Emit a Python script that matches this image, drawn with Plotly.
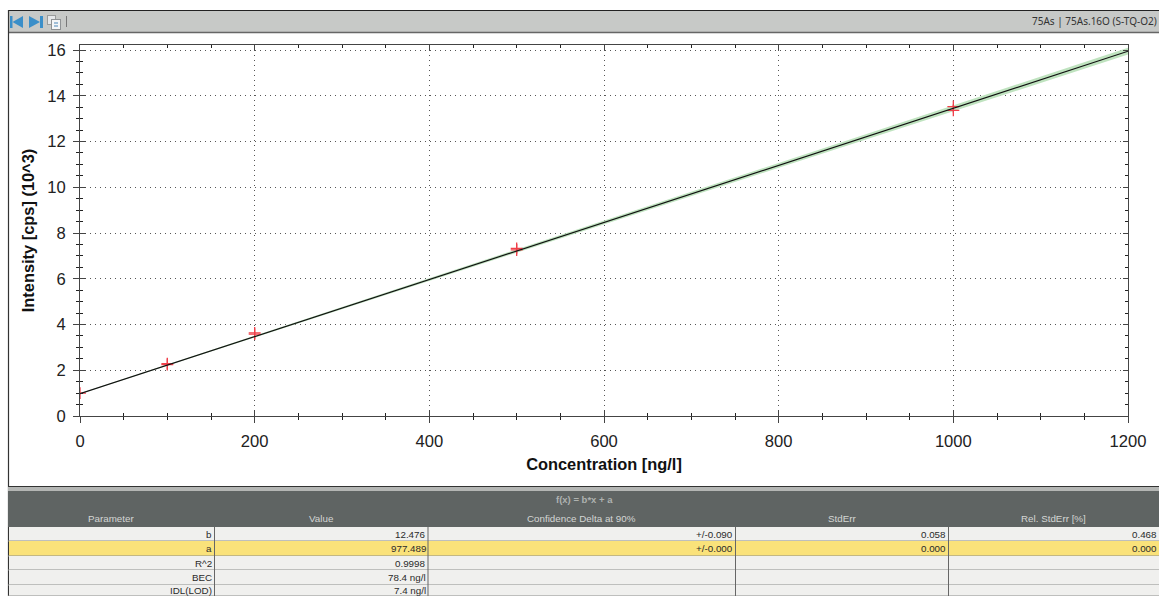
import plotly.graph_objects as go

# ---------- data ----------
std_conc = [0, 100, 100, 200, 200, 500, 500, 1000, 1000]
std_intensity = [1.00, 2.25, 2.29, 3.58, 3.63, 7.26, 7.33, 13.36, 13.53]
fit_x = [0, 200, 400, 600, 800, 1000, 1200]
fit_y = [0.977, 3.472, 5.968, 8.463, 10.958, 13.453, 15.948]
band_upper = [0.99, 3.51, 6.03, 8.55, 11.07, 13.59, 16.10]
band_lower = [0.96, 3.44, 5.91, 8.38, 10.85, 13.32, 15.80]
x_ticks = [0, 200, 400, 600, 800, 1000, 1200]
y_ticks = [0, 2, 4, 6, 8, 10, 12, 14, 16]

x_title = "Concentration [ng/l]"
y_title = "Intensity [cps] (10^3)"
window_title = "75As | 75As.16O (S-TQ-O2)"
table_formula = "f(x) = b*x + a"
table_headers = ["Parameter", "Value", "Confidence Delta at 90%", "StdErr", "Rel. StdErr [%]"]
table_param = ["b", "a", "R^2", "BEC", "IDL(LOD)"]
table_value = ["12.476", "977.489", "0.9998", "78.4 ng/l", "7.4 ng/l"]
table_delta = ["+/-0.090", "+/-0.000", "", "", ""]
table_stderr = ["0.058", "0.000", "", "", ""]
table_rel = ["0.468", "0.000", "", "", ""]

# ---------- page geometry ----------
W, H = 1159, 596
L, R, T, B = 80, 1128, 45, 416


def px(x):
    return (x - L) / (R - L)


def py(y):
    return (B - y) / (B - T)


shapes = []
annotations = []


def rect(x0, y0, x1, y1, color):
    shapes.append(dict(type="rect", xref="paper", yref="paper", layer="below",
                       x0=px(x0), x1=px(x1), y0=py(y0), y1=py(y1),
                       fillcolor=color, line=dict(width=0)))


def seg(x0, y0, x1, y1, color, width=1):
    shapes.append(dict(type="line", xref="paper", yref="paper", layer="below",
                       x0=px(x0), x1=px(x1), y0=py(y0), y1=py(y1),
                       line=dict(color=color, width=width)))


def poly(points, color):
    path = "M " + " L ".join(f"{px(a):.5f},{py(b):.5f}" for a, b in points) + " Z"
    shapes.append(dict(type="path", xref="paper", yref="paper", layer="below", path=path,
                       fillcolor=color, line=dict(width=0)))


def text(x, y, s, size=9.8, color="#333", anchor="center", family="Liberation Sans", weight=None):
    annotations.append(dict(xref="paper", yref="paper", x=px(x), y=py(y), text=s,
                            showarrow=False, xanchor=anchor, yanchor="middle",
                            font=dict(family=family, size=size, color=color, weight=weight),
                            borderpad=0))


# window frame and toolbar
rect(8, 10, W, 33, "#c7c9c7")
seg(8, 10.5, W, 10.5, "#222", 1.2)
seg(8, 32.5, W, 32.5, "#666", 1.5)
seg(8.5, 10, 8.5, H, "#333", 1.2)
BLUE = "#3b8fc9"
rect(10, 16, 12.5, 28, BLUE)
poly([(12.5, 22), (23, 16), (23, 28)], BLUE)
poly([(29, 16), (40, 22), (29, 28)], BLUE)
rect(40, 16, 43, 28, BLUE)
rect(47, 15, 56, 25, "#9a9c9c")
rect(48, 16, 55, 24, "#e6e8ea")
rect(51, 19, 61, 30, "#8f9294")
rect(52, 20, 60, 29, "#f4f6f8")
seg(54, 23, 58, 23, "#4a86b8")
seg(54, 26, 58, 26, "#4a86b8")
seg(66.5, 16, 66.5, 27, "#777")
text(1158, 21, window_title, size=10, color="#333", anchor="right", family="Noto Sans")

# results table
col_edges = [8, 214.5, 428, 735.5, 948.5, W]
row_edges = [527, 541, 556, 570, 585, 596]
HEAD_DARK = "#5f6463"
seg(8, 486.5, W, 486.5, "#333", 1.2)
rect(8, 487, W, 491, "#b4b6b4")
rect(8, 491, W, 527, HEAD_DARK)
text(584, 499, table_formula, size=9.5, color="#aeb2b0", weight="bold")
for i, h in enumerate(table_headers):
    text((col_edges[i] + col_edges[i + 1]) / 2, 518, h, color="#d4d6d4")

columns = [table_param, table_value, table_delta, table_stderr, table_rel]
for r in range(5):
    rect(9, row_edges[r], W, row_edges[r + 1], "#fae27a" if r == 1 else "#f0f0ee")
    seg(8, row_edges[r + 1], W, row_edges[r + 1], "#8c8e8c", 1)
    for c in range(5):
        text(col_edges[c + 1] - 1.5, (row_edges[r] + row_edges[r + 1]) / 2, columns[c][r],
             color="#2a2a2a", anchor="right")
for e in col_edges[1:-1]:
    seg(e, 527, e, H, "#666", 1)

# ---------- traces ----------
fig = go.Figure()
fig.add_trace(go.Scatter(x=fit_x, y=band_upper, mode="lines", line=dict(width=0, color="#bfe3bf"),
                         showlegend=False, hoverinfo="skip"))
fig.add_trace(go.Scatter(x=fit_x, y=band_lower, mode="lines", line=dict(width=0, color="#bfe3bf"),
                         fill="tonexty", fillcolor="#bfe3bf", showlegend=False, hoverinfo="skip"))
fig.add_trace(go.Scatter(x=std_conc, y=std_intensity, mode="markers", name="Standards", showlegend=False,
                         marker=dict(symbol="cross-thin", size=8.5, color="#f0404a",
                                     line=dict(color="#f0404a", width=1.3))))
fig.add_trace(go.Scatter(x=fit_x, y=fit_y, mode="lines", name="Fit", showlegend=False,
                         line=dict(color="#111", width=1.2)))
# empty traces that bring the tick-only mirror axes to life
for xa, ya in (("x2", "y2"), ("x3", "y3")):
    fig.add_trace(go.Scatter(x=[x_ticks[0]], y=[y_ticks[0]], xaxis=xa, yaxis=ya, mode="lines",
                             showlegend=False, hoverinfo="skip"))

AX = "#444"
FONT = dict(family="Liberation Sans", size=16.6, color="#222")
common_x = dict(range=[0, 1200], tickmode="array", tickvals=x_ticks, zeroline=False,
                tickcolor=AX, tickwidth=1, ticklen=6, linecolor=AX, linewidth=1, showline=True)
common_y = dict(range=[0, 16.22], tickmode="array", tickvals=y_ticks, zeroline=False,
                tickcolor=AX, tickwidth=1, ticklen=6, linecolor=AX, linewidth=1, showline=True)
minor_x = dict(tick0=0, dtick=50, tickcolor="#222", tickwidth=1, ticklen=3, showgrid=False)
minor_y = dict(tick0=0, dtick=0.5, tickcolor="#222", tickwidth=1, ticklen=3, showgrid=False)

fig.update_layout(
    width=W, height=H, autosize=False,
    margin=dict(l=L, r=W - R, t=T, b=H - B, pad=0),
    paper_bgcolor="white", plot_bgcolor="white", showlegend=False,
    font=dict(family="Liberation Sans"),
    shapes=shapes, annotations=annotations,
    xaxis=dict(common_x, ticks="outside", minor=dict(minor_x, ticks="outside"),
               showgrid=True, gridcolor="#555", griddash="1px,4px", gridwidth=1,
               tickfont=FONT, ticklabelstandoff=4,
               title=dict(text=x_title, standoff=8,
                          font=dict(family="Liberation Sans", size=16.4, color="#111", weight="bold"))),
    yaxis=dict(common_y, ticks="outside", minor=dict(minor_y, ticks="outside"),
               showgrid=True, gridcolor="#555", griddash="1px,4px", gridwidth=1,
               tickfont=FONT, ticklabelstandoff=4,
               title=dict(text=y_title, standoff=8,
                          font=dict(family="Liberation Sans", size=16.4, color="#111", weight="bold"))),
    xaxis2=dict(common_x, overlaying="x", side="top", anchor="y2", ticks="inside", ticklen=5,
                minor=dict(minor_x, ticks="inside"), showticklabels=False, showgrid=False),
    yaxis2=dict(common_y, overlaying="y", side="right", anchor="x2", ticks="inside", ticklen=5,
                minor=dict(minor_y, ticks="inside"), showticklabels=False, showgrid=False),
    xaxis3=dict(common_x, overlaying="x", side="bottom", anchor="y3", ticks="inside",
                minor=dict(minor_x, ticks="inside"), showticklabels=False, showgrid=False),
    yaxis3=dict(common_y, overlaying="y", side="left", anchor="x3", ticks="inside",
                minor=dict(minor_y, ticks="inside"), showticklabels=False, showgrid=False),
)

fig.write_html("out.html", config=dict(displayModeBar=False),
               post_script="document.body.style.margin='0';document.body.style.overflow='hidden';")
